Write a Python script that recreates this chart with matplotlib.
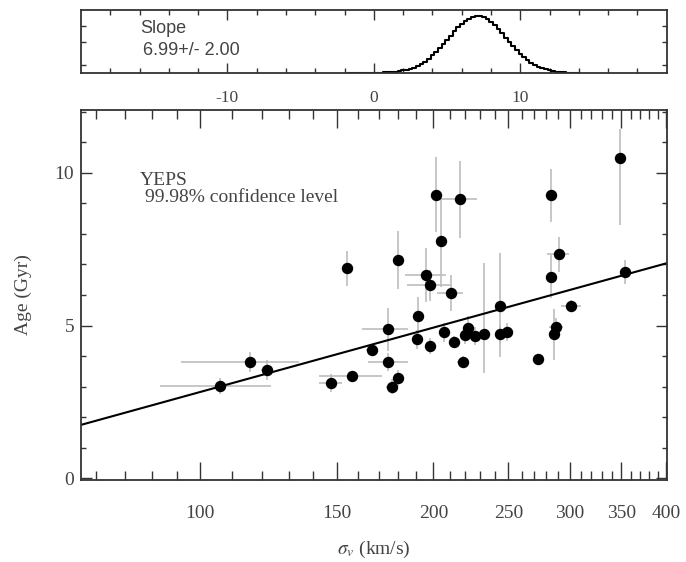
"""Age vs velocity dispersion with the bootstrap slope distribution on top."""

import matplotlib
matplotlib.use("Agg")
import matplotlib.pyplot as plt
import numpy as np
from matplotlib.ticker import FixedFormatter, FixedLocator, NullFormatter

plt.rcParams["font.family"] = ["Liberation Serif", "DejaVu Serif"]
plt.rcParams["mathtext.fontset"] = "stix"
plt.rcParams["axes.unicode_minus"] = False

# galaxies: velocity dispersion (km/s) and age (Gyr), with lower/upper errors
sigma = [105.9, 115.8, 122.0, 147.5, 154.5, 157.0, 166.5, 174.6, 174.6, 176.6,
         180.2, 180.2, 190.3, 191.3, 195.5, 197.8, 197.8, 201.3, 204.8, 206.3,
         210.5, 212.5, 216.2, 218.3, 220.0, 221.7, 226.5, 232.6, 243.5, 243.5,
         248.9, 273.0, 283.7, 283.7, 286.4, 287.8, 290.4, 300.8, 348.9, 354.0]
sigma_lo = [17.3, 21.3, 2.2, 5.0, 0.0, 14.5, 3.0, 13.0, 10.0, 3.0,
            0.0, 0.0, 0.0, 0.0, 11.7, 12.8, 0.0, 0.0, 3.0, 0.0,
            8.2, 0.0, 11.9, 4.0, 0.0, 0.0, 0.0, 0.0, 0.0, 0.0,
            0.0, 0.0, 0.0, 0.0, 0.0, 6.0, 10.2, 8.3, 0.0, 0.0]
sigma_hi = [17.5, 18.5, 2.2, 5.0, 0.0, 14.6, 3.0, 11.0, 11.0, 3.0,
            0.0, 0.0, 0.0, 0.0, 11.9, 12.2, 0.0, 0.0, 3.0, 0.0,
            7.9, 0.0, 11.6, 4.0, 0.0, 0.0, 0.0, 0.0, 0.0, 0.0,
            0.0, 0.0, 0.0, 0.0, 0.0, 6.0, 8.9, 9.2, 0.0, 0.0]
age = [3.02, 3.81, 3.55, 3.13, 6.87, 3.35, 4.20, 4.88, 3.82, 3.00,
       3.29, 7.14, 4.55, 5.32, 6.65, 6.32, 4.33, 9.29, 7.76, 4.78,
       6.07, 4.47, 9.13, 3.80, 4.69, 4.93, 4.66, 4.74, 5.64, 4.71,
       4.80, 3.90, 9.26, 6.60, 4.74, 4.96, 7.33, 5.64, 10.50, 6.76]
age_lo = [0.25, 0.33, 0.33, 0.30, 0.58, 0.15, 0.20, 0.70, 0.30, 0.25,
          0.25, 0.95, 0.30, 0.60, 0.88, 0.50, 0.25, 1.22, 1.50, 0.30,
          0.60, 0.20, 1.26, 0.20, 0.30, 0.40, 0.30, 1.30, 1.67, 0.30,
          0.30, 0.10, 0.88, 0.70, 0.85, 0.30, 0.57, 0.20, 2.22, 0.40]
age_hi = [0.25, 0.33, 0.33, 0.30, 0.58, 0.15, 0.20, 0.70, 0.30, 0.25,
          0.25, 0.95, 0.30, 0.60, 0.88, 0.50, 0.25, 1.22, 1.40, 0.30,
          0.60, 0.20, 1.26, 0.20, 0.30, 0.40, 0.30, 2.30, 1.73, 0.30,
          0.30, 0.10, 0.88, 0.70, 0.80, 0.30, 0.57, 0.20, 0.94, 0.40]

# fit: age = slope * log10(sigma) + intercept
fit_slope = 6.99
fit_slope_err = 2.00
fit_intercept = -11.15

# bootstrap slope distribution (normalised counts)
slope_bins = [-1.75, -1.5, -1.25, -1.0, -0.75, -0.5, -0.25, 0.0, 0.25, 0.5,
              0.75, 1.0, 1.25, 1.5, 1.75, 2.0, 2.25, 2.5, 2.75, 3.0,
              3.25, 3.5, 3.75, 4.0, 4.25, 4.5, 4.75, 5.0, 5.25, 5.5,
              5.75, 6.0, 6.25, 6.5, 6.75, 7.0, 7.25, 7.5, 7.75, 8.0,
              8.25, 8.5, 8.75, 9.0, 9.25, 9.5, 9.75, 10.0, 10.25, 10.5,
              10.75, 11.0, 11.25, 11.5, 11.75, 12.0, 12.25, 12.5, 12.75, 13.0,
              13.25, 13.5, 13.75, 14.0]
slope_counts = [0.000, 0.000, 0.001, 0.001, 0.002, 0.002, 0.003, 0.004, 0.005, 0.007,
                0.010, 0.014, 0.019, 0.025, 0.033, 0.045, 0.056, 0.072, 0.096, 0.125,
                0.160, 0.200, 0.250, 0.310, 0.365, 0.430, 0.500, 0.585, 0.655, 0.735,
                0.800, 0.860, 0.905, 0.940, 0.975, 0.995, 1.000, 0.975, 0.950, 0.895,
                0.845, 0.775, 0.700, 0.620, 0.545, 0.470, 0.400, 0.335, 0.275, 0.225,
                0.180, 0.140, 0.108, 0.084, 0.064, 0.049, 0.036, 0.026, 0.018, 0.012,
                0.008, 0.005, 0.003, 0.001]

x_major = [100, 150, 200, 250, 300, 350, 400]
x_minor = [73.4, 79.9, 86.5, 93.2, 110, 120, 130, 140, 160, 170, 180, 190,
           210, 220, 230, 240, 260, 270, 280, 290, 310, 320, 330, 340,
           360, 370, 380, 390]

TEXT = "#444444"
AXIS = "#333333"


def style_spines(ax):
    for spine in ax.spines.values():
        spine.set_linewidth(1.3)
        spine.set_color(AXIS)


def draw_slope_panel(fig):
    ax = fig.add_axes([0.118, 0.870, 0.854, 0.112])
    ax.step(slope_bins, slope_counts, where="mid", color="black", lw=1.5)
    ax.set_xlim(-20, 20)
    ax.set_ylim(0, 1.1)
    ax.xaxis.set_major_locator(FixedLocator([-10, 0, 10]))
    ax.xaxis.set_minor_locator(FixedLocator(np.arange(-18, 19, 2)))
    ax.yaxis.set_major_locator(FixedLocator([]))
    ax.yaxis.set_minor_locator(FixedLocator([0.14, 0.545, 0.83]))
    ax.tick_params(axis="both", which="both", direction="in", top=True, right=True,
                   color=AXIS, width=1.0)
    ax.tick_params(axis="x", which="major", length=7, pad=12, labelsize=12.5, labelcolor=TEXT)
    ax.tick_params(axis="x", which="minor", length=3.6)
    ax.tick_params(axis="y", which="minor", length=3.6)
    style_spines(ax)
    ax.text(0.101, 0.71, "Slope", transform=ax.transAxes, fontsize=13, color=TEXT,
            family="Liberation Sans", va="center")
    ax.text(0.106, 0.365, f"{fit_slope:.2f}+/- {fit_slope_err:.2f}", transform=ax.transAxes,
            fontsize=13, color=TEXT, family="Liberation Sans", va="center")


def draw_main_panel(fig):
    ax = fig.add_axes([0.118, 0.146, 0.854, 0.658])
    ax.set_xscale("log")
    ax.errorbar(sigma, age, xerr=[sigma_lo, sigma_hi], yerr=[age_lo, age_hi],
                fmt="none", ecolor="#bdbdbd", elinewidth=1.2, capsize=0, zorder=1)
    ax.plot(sigma, age, "o", color="black", markersize=7.2, zorder=3)

    line_x = np.array([70.1, 400.5])
    ax.plot(line_x, fit_slope * np.log10(line_x) + fit_intercept, color="black", lw=1.5, zorder=2)

    ax.set_xlim(70.1, 400.5)
    ax.set_ylim(-0.05, 12.05)
    ax.xaxis.set_major_locator(FixedLocator(x_major))
    ax.xaxis.set_minor_locator(FixedLocator(x_minor))
    ax.xaxis.set_major_formatter(FixedFormatter([str(v) for v in x_major]))
    ax.xaxis.set_minor_formatter(NullFormatter())
    ax.yaxis.set_major_locator(FixedLocator([0, 5, 10]))
    ax.yaxis.set_minor_locator(FixedLocator(range(1, 13)))
    ax.tick_params(axis="both", which="both", direction="in", top=True, right=True,
                   color=AXIS, width=1.0, labelcolor=TEXT, labelsize=14)
    ax.tick_params(axis="x", which="major", length=13, pad=18)
    ax.tick_params(axis="x", which="minor", length=6.7)
    ax.tick_params(axis="y", which="major", length=8, pad=5)
    ax.tick_params(axis="y", which="minor", length=3.8)
    style_spines(ax)

    ax.set_xlabel(r"$\sigma_v$ (km/s)", fontsize=14, color=TEXT, labelpad=12)
    ax.set_ylabel("Age (Gyr)", fontsize=14, color=TEXT, labelpad=16)
    ax.text(0.101, 0.81, "YEPS", transform=ax.transAxes, fontsize=14, color=TEXT, va="center")
    ax.text(0.109, 0.765, "99.98% confidence level", transform=ax.transAxes, fontsize=14,
            color=TEXT, va="center")


def main():
    fig = plt.figure(figsize=(6.86, 5.62), dpi=100)
    draw_slope_panel(fig)
    draw_main_panel(fig)
    fig.savefig("out.png", dpi=100)


if __name__ == "__main__":
    main()
